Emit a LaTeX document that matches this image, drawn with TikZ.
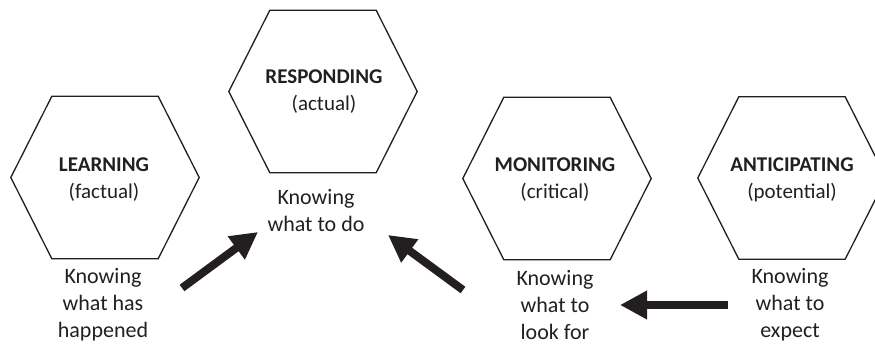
\documentclass[tikz,border=0pt]{standalone}
\usepackage{fontspec}
\setmainfont{Carlito}
\usetikzlibrary{arrows.meta,calc}
\definecolor{ink}{HTML}{231F20}
\newcommand\hexdraw[1]{\draw[hexline] (#1.west) -- ([xshift=41pt]#1.north west) -- ([xshift=-41pt]#1.north east) -- (#1.east) -- ([xshift=-41pt]#1.south east) -- ([xshift=41pt]#1.south west) -- cycle;}
\begin{document}
\begin{tikzpicture}[x=1pt,y=-1pt,
  hexbox/.style={minimum width=188pt,minimum height=162pt,inner sep=0pt},
  hexline/.style={draw=ink,line width=1.3pt,line join=miter},
  title/.style={align=center,font=\fontsize{21}{27}\selectfont,text=ink},
  body/.style={align=center,font=\fontsize{22}{27}\selectfont,text=ink},
  bigarrow/.style={draw=ink,line width=8pt,-{Triangle[length=27pt,width=27pt]}}]
\useasboundingbox (0,0) rectangle (875,344);
\clip (0,0) rectangle (875,344);
% hexagons
\node[hexbox] (L) at (105,177.5) {};
\node[hexbox] (R) at (323,91.5) {};
\node[hexbox] (M) at (557,178.5) {};
\node[hexbox] (A) at (792,178) {};
\hexdraw{L}\hexdraw{R}\hexdraw{M}\hexdraw{A}
% titles
\node[title] (Lt) at (104,180) {\textbf{LEARNING}\\(factual)};
\node[title] (Rt) at (324,92) {\textbf{RESPONDING}\\(actual)};
\node[title] (Mt) at (555,180) {\textbf{MONITORING}\\(critical)};
\node[title] (At) at (792,180) {\textbf{ANTICIPATING}\\(potential)};
% bodies
\node[body] (Lb) at (103,305) {Knowing\\what has\\happened};
\node[body] (Rb) at (316,211) {Knowing\\what to do};
\node[body] (Mb) at (555,305) {Knowing\\what to\\look for};
\node[body] (Ab) at (790,305) {Knowing\\what to\\expect};
% arrow ends
\coordinate (a1s) at (182,288);
\coordinate (a1e) at (258,232);
\coordinate (a2s) at (463,290);
\coordinate (a2e) at (388,235);
\coordinate (a3s) at (728,305);
\coordinate (a3e) at (620,305);
\draw[bigarrow] (a1s) -- (a1e);
\draw[bigarrow] (a2s) -- (a2e);
\draw[bigarrow] (a3s) -- (a3e);
\end{tikzpicture}
\end{document}
